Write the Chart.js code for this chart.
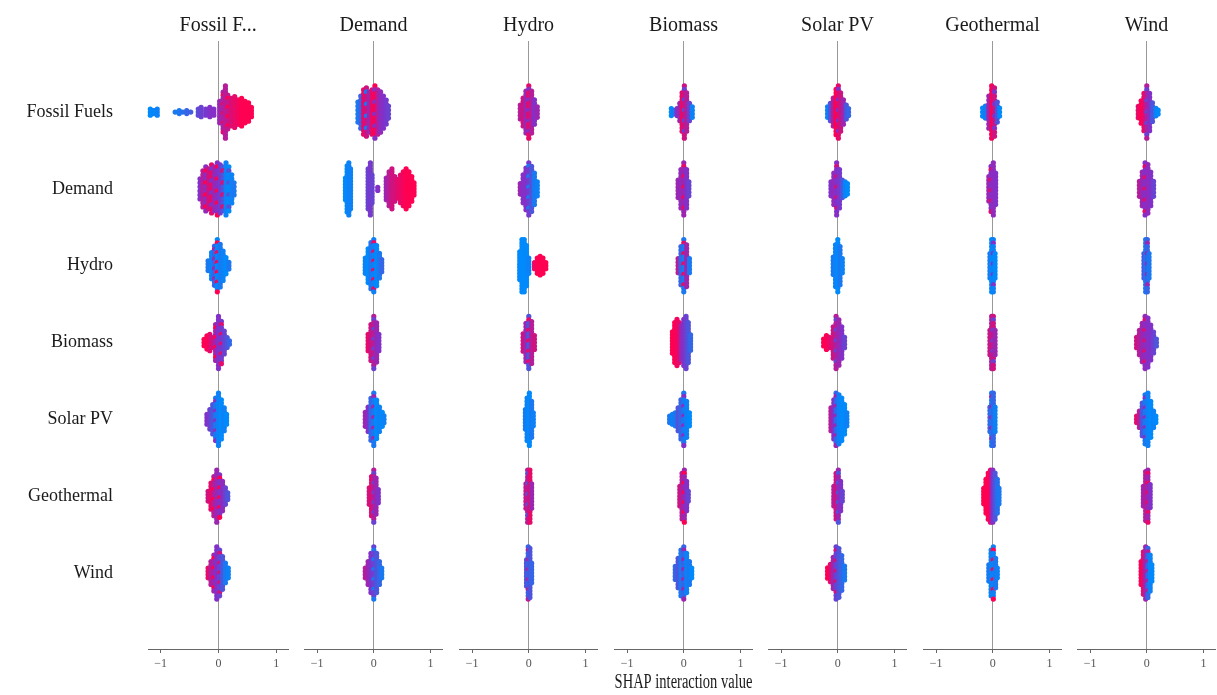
<!DOCTYPE html>
<html>
<head>
<meta charset="utf-8">
<script src="https://cdn.jsdelivr.net/npm/chart.js@4.4.1/dist/chart.umd.min.js"></script>
<style>
  html, body { margin: 0; padding: 0; background: #fff; overflow: hidden; }
  #wrap { position: relative; width: 1217px; height: 695px; }
  #wrap canvas { position: absolute; top: 0; }
</style>
</head>
<body>
<div id="wrap"></div>
<script>
const features = ['Fossil Fuels', 'Demand', 'Hydro', 'Biomass', 'Solar PV', 'Geothermal', 'Wind'];
const panelTitles = ['Fossil F...', 'Demand', 'Hydro', 'Biomass', 'Solar PV', 'Geothermal', 'Wind'];
const xTicks = [-1, 0, 1];
const xAxisTitle = 'SHAP interaction value';

// one array per panel (column), one row per feature
// entry = [shap interaction value, dots stacked at that value, feature value 0 (low, blue) .. 1 (high, red), optional 2nd feature value mixed in]
const fossilFuelsCol = [
  [[-1.18,3,0],[-1.15,2,0],[-1.12,2,0.05],[-1.09,2,0],[-1.06,3,0.05],[-0.75,1,0.1],[-0.68,2,0.1],[-0.62,1,0.15],[-0.55,2,0.2],[-0.48,1,0.25],[-0.35,3,0.35],[-0.3,4,0.4],[-0.22,3,0.45],[-0.15,4,0.5],[-0.08,3,0.5],[0.02,8,0.6],[0.08,14,0.65,0.9],[0.12,18,0.7],[0.16,12,0.75,1],[0.22,10,0.85],[0.28,11,0.9],[0.34,9,0.95],[0.4,10,1],[0.46,8,1],[0.52,7,1],[0.57,4,1]],
  [[-0.32,6,0.5],[-0.27,10,0.7],[-0.22,12,0.55,1],[-0.17,11,0.8],[-0.12,13,0.9,0.5],[-0.07,12,0.6],[-0.02,14,0.5,1],[0.03,13,0.45],[0.08,12,0.3,0.9],[0.13,14,0.05],[0.18,12,0,0.3],[0.23,8,0.05],[0.27,4,0.1]],
  [[-0.18,4,0.1],[-0.12,9,0.05],[-0.07,13,0.2,0.6],[-0.02,17,0,1],[0.03,14,0.1],[0.08,10,0.05],[0.13,6,0],[0.18,3,0.1]],
  [[-0.25,3,1],[-0.2,5,1],[-0.15,6,0.9],[-0.1,4,0.8],[-0.05,12,0.6,1],[0,17,0.5],[0.05,14,0.45,0.9],[0.1,8,0.4],[0.15,4,0.3],[0.19,2,0.2]],
  [[-0.2,4,0.5],[-0.15,7,0.4],[-0.1,10,0.3],[-0.05,14,0.1,0.5],[0,17,0.05],[0.05,13,0],[0.1,8,0.05],[0.14,4,0]],
  [[-0.18,4,0.8],[-0.13,9,0.9],[-0.08,13,0.7,1],[-0.03,17,0.6],[0.02,14,0.5,1],[0.07,10,0.55],[0.12,6,0.4],[0.16,3,0.3]],
  [[-0.18,4,0.9],[-0.13,8,0.7],[-0.08,12,0.6,1],[-0.03,17,0.5],[0.02,15,0.4,0.8],[0.07,11,0.3],[0.12,7,0.1],[0.17,4,0.05]]
];
const demandCol = [
  [[-0.28,6,0.1],[-0.23,9,0.2],[-0.18,12,0.9],[-0.13,13,0.8,0.1],[-0.08,11,0.6],[-0.03,12,0.9],[0.02,14,1,0.5],[0.07,12,0.7],[0.12,11,0.55],[0.17,9,0.5],[0.22,7,0.45],[0.26,4,0.4]],
  [[-0.5,8,0],[-0.47,16,0],[-0.44,18,0.05],[-0.41,14,0.05],[-0.1,14,0.4],[-0.06,18,0.45],[-0.03,10,0.4],[0.07,2,0.5],[0.22,8,0.6],[0.27,12,0.7],[0.32,14,0.8],[0.37,9,0.8],[0.42,7,0.9],[0.47,10,0.9],[0.52,12,0.95],[0.57,14,1],[0.62,12,1],[0.67,9,1],[0.71,5,1]],
  [[-0.15,6,0.05],[-0.1,12,0],[-0.05,16,0.1],[0,18,0.05,0.9],[0.05,14,0],[0.1,9,0.1],[0.14,5,0.2]],
  [[-0.1,6,0.9],[-0.05,12,0.8],[0,17,0.7,0.4],[0.05,13,0.6],[0.09,6,0.5]],
  [[-0.15,5,0.6],[-0.1,8,0.5],[-0.05,13,0.2],[0,16,0.1,0.6],[0.05,12,0],[0.1,8,0.05],[0.15,5,0],[0.18,3,0.05]],
  [[-0.08,6,0.8],[-0.04,13,0.9],[0,17,0.7,0.4],[0.04,12,0.6],[0.08,5,0.5]],
  [[-0.15,4,0.7],[-0.1,8,0.6],[-0.05,13,0.5],[0,17,0.4,0.1],[0.05,13,0.3],[0.1,8,0.2],[0.14,4,0.1]]
];
const hydroCol = [
  [[-0.15,5,0.7],[-0.1,9,0.8],[-0.05,13,0.6],[0,16,0.9,0.5],[0.05,13,0.7],[0.1,8,0.5],[0.15,4,0.6]],
  [[-0.15,4,0.6],[-0.1,9,0.5],[-0.05,13,0.5],[0,16,0.45,0.1],[0.05,14,0.3],[0.1,10,0.1],[0.15,5,0.05]],
  [[-0.16,10,0],[-0.12,18,0],[-0.08,18,0],[-0.04,14,0],[0,6,0.05],[0.1,3,0.9],[0.15,6,1],[0.2,7,1],[0.25,6,1],[0.3,3,1]],
  [[-0.1,6,0.8],[-0.05,12,0.6],[0,16,0.3,0.9],[0.05,13,0.7],[0.1,5,0.8]],
  [[-0.06,7,0.1],[-0.03,14,0.05],[0.01,17,0],[0.05,12,0.1],[0.08,5,0.05]],
  [[-0.05,8,0.8],[-0.02,16,0.7,0.3],[0.02,16,0.9],[0.05,8,0.6]],
  [[-0.04,9,0.3],[-0.01,17,0.2,0.7],[0.02,16,0.3],[0.05,7,0.2]]
];
const biomassCol = [
  [[-0.22,3,0],[-0.18,2,0.1],[-0.12,3,0.5],[-0.07,6,0.6],[-0.03,12,0.9],[0.01,16,0.8,0.4],[0.05,12,0.7],[0.1,6,0.4],[0.15,4,0.05]],
  [[-0.1,6,0.6],[-0.05,12,0.55],[0,16,0.6,0.9],[0.05,12,0.5],[0.09,5,0.4]],
  [[-0.1,5,0.7],[-0.05,12,0.2],[0,16,0.1,0.9],[0.05,13,0.6],[0.1,5,0.1]],
  [[-0.2,8,1],[-0.16,14,1],[-0.12,16,0.95],[-0.08,14,0.9],[-0.04,12,0.6],[0,16,0.5],[0.04,18,0.4],[0.08,14,0.3],[0.12,6,0.2]],
  [[-0.25,3,0.1],[-0.2,4,0.05],[-0.15,5,0.1],[-0.1,8,0.3],[-0.05,13,0.2],[0,17,0.1,0.5],[0.05,12,0.05],[0.1,5,0]],
  [[-0.07,7,0.8],[-0.03,15,0.7],[0.01,17,0.6,1],[0.05,10,0.5],[0.08,4,0.4]],
  [[-0.15,5,0.2],[-0.1,10,0.3],[-0.05,15,0.1],[0,17,0.2,0.6],[0.05,13,0.05],[0.1,8,0.1],[0.14,4,0]]
];
const solarCol = [
  [[-0.18,4,0.05],[-0.13,6,0.3],[-0.08,9,0.7],[-0.03,14,1],[0.01,16,0.9,0.5],[0.05,12,0.8],[0.1,8,0.6],[0.15,5,0.3],[0.19,3,0.2]],
  [[-0.12,5,0.5],[-0.07,10,0.55],[-0.02,16,0.5,0.8],[0.03,12,0.45],[0.08,6,0.3],[0.13,5,0.05],[0.17,4,0]],
  [[-0.08,6,0.1],[-0.04,13,0.05],[0,16,0],[0.04,12,0.1],[0.08,5,0.05]],
  [[-0.25,3,1],[-0.2,5,1],[-0.15,4,0.9],[-0.08,10,0.8],[-0.03,16,0.7,0.4],[0.02,14,0.6],[0.07,10,0.5],[0.12,4,0.4]],
  [[-0.12,8,0.7],[-0.07,13,0.5],[-0.03,17,0.2,0.6],[0.02,16,0.05],[0.07,14,0],[0.12,10,0],[0.16,5,0.05]],
  [[-0.07,7,0.7],[-0.03,15,0.8],[0.01,17,0.6,0.3],[0.05,10,0.5],[0.08,4,0.4]],
  [[-0.18,4,1],[-0.13,6,0.9],[-0.08,10,0.6],[-0.03,16,0.4,0.8],[0.02,15,0.3],[0.07,11,0.2],[0.12,5,0.1]]
];
const geothermalCol = [
  [[-0.18,3,0],[-0.13,4,0.1],[-0.07,9,0.6],[-0.02,14,0.95],[0.03,13,0.8,0.5],[0.08,6,0.3],[0.12,3,0]],
  [[-0.07,8,0.6],[-0.03,14,0.5,0.9],[0.01,16,0.55],[0.05,10,0.5]],
  [[-0.05,8,0.1],[-0.02,16,0],[0.01,16,0.05,0.5],[0.04,8,0]],
  [[-0.05,8,0.8],[-0.02,16,0.7],[0.01,16,0.8,0.4],[0.04,8,0.6]],
  [[-0.05,8,0.2],[-0.02,16,0.1,0.6],[0.01,16,0.2],[0.04,8,0.05]],
  [[-0.16,6,1],[-0.12,12,1],[-0.08,16,1],[-0.04,18,0.9],[0,18,0.5],[0.04,16,0.3],[0.08,12,0.15],[0.11,6,0.1]],
  [[-0.07,6,0.1],[-0.03,15,0.05],[0.01,17,0.05,1],[0.05,10,0.1],[0.08,4,0.05]]
];
const windCol = [
  [[-0.15,4,0.9],[-0.1,7,1],[-0.05,11,0.9],[0,15,0.7,0.4],[0.05,11,0.5],[0.1,6,0.3],[0.16,3,0.05],[0.2,2,0]],
  [[-0.13,5,0.7],[-0.08,10,0.6],[-0.03,15,0.5,0.9],[0.02,14,0.55],[0.07,10,0.5],[0.12,5,0.4]],
  [[-0.05,8,0.3],[-0.02,16,0.1],[0.01,16,0.2,0.6],[0.04,8,0.1]],
  [[-0.18,4,0.8],[-0.13,8,0.7],[-0.08,12,0.6],[-0.03,16,0.55,0.9],[0.02,15,0.5],[0.07,11,0.5],[0.12,7,0.4],[0.17,3,0.3]],
  [[-0.18,3,0.9],[-0.13,6,0.7],[-0.08,11,0.3],[-0.03,16,0.1,0.5],[0.02,17,0.05],[0.07,12,0],[0.12,6,0.05],[0.16,3,0]],
  [[-0.06,7,0.6],[-0.02,16,0.7],[0.02,17,0.6,0.9],[0.06,8,0.5]],
  [[-0.1,8,1],[-0.06,14,0.9],[-0.02,17,0.6],[0.02,16,0.2,0.7],[0.06,12,0.05],[0.09,6,0]]
];

const panels = [fossilFuelsCol, demandCol, hydroCol, biomassCol, solarCol, geothermalCol, windCol];

const serif = '"Liberation Serif", "DejaVu Serif", serif';

// blue -> purple -> red, like shap's red_blue map
function shapColor(v) {
  const lo = [0, 138, 251], mid = [132, 48, 200], hi = [255, 0, 82];
  let a, b, t;
  if (v < 0.5) { a = lo; b = mid; t = v / 0.5; } else { a = mid; b = hi; t = (v - 0.5) / 0.5; }
  return 'rgb(' + [0, 1, 2].map(i => Math.round(a[i] + (b[i] - a[i]) * t)).join(',') + ')';
}

// stack the dots of each row around the row centre (beeswarm)
function swarm(col) {
  let pts = [], colors = [];
  col.forEach((row, r) => {
    const maxN = Math.max(...row.map(e => e[1]));
    const dy = 0.68 / Math.max(maxN - 1, 1);
    row.forEach(([x, n, c, c2]) => {
      for (let k = 0; k < n; k++) {
        pts.push({ x: x, y: r + (k - (n - 1) / 2) * dy });
        const v = (c2 !== undefined && k % 3 === 1) ? c2 : c;
        colors.push(shapColor(v));
      }
    });
  });
  return { pts, colors };
}

const wrap = document.getElementById('wrap');
const zero0 = 219.5, step = 154.6, areaW = 143, xMin = -1.22, xMax = 1.21;

panels.forEach((col, i) => {
  const areaLeft = Math.round(zero0 + step * i - areaW * (-xMin) / (xMax - xMin));
  const left = i === 0 ? 0 : areaLeft;
  const width = i === 0 ? areaLeft + areaW : areaW;
  const yAxisWidth = i === 0 ? areaLeft : 0;

  const cv = document.createElement('canvas');
  cv.width = width; cv.height = 695;
  cv.style.left = left + 'px';
  cv.style.width = width + 'px';
  cv.style.height = '695px';
  wrap.appendChild(cv);

  const sw = swarm(col);

  new Chart(cv.getContext('2d'), {
    type: 'scatter',
    data: {
      datasets: [{
        data: sw.pts,
        backgroundColor: sw.colors,
        borderWidth: 0,
        pointRadius: 2.6,
        pointHoverRadius: 2.6,
        clip: false
      }]
    },
    options: {
      responsive: false,
      animation: false,
      events: [],
      layout: { padding: 0 },
      plugins: {
        legend: { display: false },
        tooltip: { enabled: false },
        title: {
          display: true,
          text: panelTitles[i],
          fullSize: false,
          color: '#1a1a1a',
          font: { family: serif, size: 20, weight: 'normal' },
          padding: { top: 14, bottom: 3 }
        }
      },
      scales: {
        x: {
          type: 'linear',
          min: xMin,
          max: xMax,
          afterBuildTicks: s => { s.ticks = xTicks.map(v => ({ value: v })); },
          afterFit: s => { s.height = 46; s.paddingLeft = 0; s.paddingRight = 0; },
          ticks: {
            callback: v => v < 0 ? '\u2212' + Math.abs(v) : '' + v,
            color: '#555',
            font: { family: serif, size: 12 },
            padding: 4,
            maxRotation: 0
          },
          grid: {
            color: c => (c.tick && c.tick.value === 0) ? '#999' : 'rgba(0,0,0,0)',
            tickColor: '#666',
            tickLength: 4,
            lineWidth: 1
          },
          border: { display: true, color: '#666', width: 1 },
          title: {
            display: i === 3,
            text: xAxisTitle,
            color: '#1a1a1a',
            font: { family: serif, size: 20 },
            padding: { top: 0, bottom: 0 }
          }
        },
        y: {
          type: 'linear',
          reverse: true,
          min: -0.925,
          max: 6.99,
          display: i === 0,
          afterBuildTicks: s => { s.ticks = features.map((f, k) => ({ value: k })); },
          afterFit: s => { s.width = yAxisWidth; s.paddingTop = 0; s.paddingBottom = 0; },
          ticks: {
            callback: v => features[v],
            color: '#1a1a1a',
            font: { family: serif, size: 18 },
            padding: 35
          },
          grid: { display: false, drawTicks: false },
          border: { display: false }
        }
      }
    }
  });
});
</script>
</body>
</html>
